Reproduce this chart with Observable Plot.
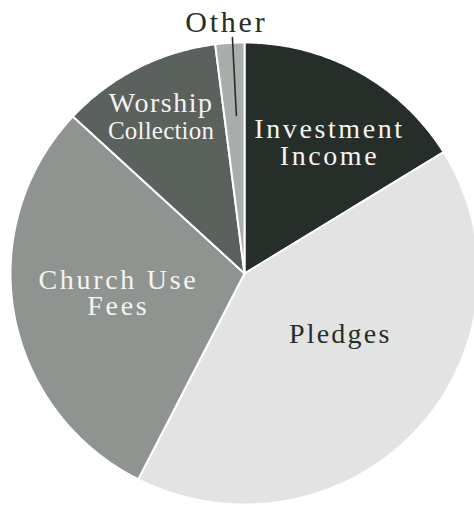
<!DOCTYPE html>
<html>
<head>
<meta charset="utf-8">
<script src="https://cdn.jsdelivr.net/npm/d3@7"></script>
<script src="https://cdn.jsdelivr.net/npm/@observablehq/plot@0.6"></script>
<style>
  html, body { margin: 0; padding: 0; background: #ffffff; }
  #chart svg { display: block; }
</style>
</head>
<body>
<div id="chart"></div>
<script>
// ---- data ----
const categories = ["Investment Income", "Pledges", "Church Use Fees", "Worship Collection", "Other"];
const shares = [16.2, 41.3, 29.4, 11.1, 2.0];
const labelTexts = ["Investment\nIncome", "Pledges", "Church Use\nFees", "Worship\nCollection", "Other"];

// ---- style / layout ----
const colors = ["#252e29", "#e3e3e3", "#8f9490", "#5b615c", "#a9aeab"];
const textColors = ["#f4f4f2", "#252e29", "#f4f4f2", "#f4f4f2", "#252e29"];
const labelRadius = [0.673, 0.486, 0.546, 0.765, 1.085];
const labelAngleOffset = [3.5, -10, 0.8, -0.6, -0.5]; // degrees from slice middle
const labelSize = [28, 28, 28, 28, 30];
const labelLineHeight = [27.5, 27, 25.5, 27, 27]; // px
const labelSpacing = [2.6, 2.2, 2.7, 1.5, 2.8];   // letter-spacing px
const W = 474, H = 505, RX = 234, RY = 231, CX = 244, CY = 273;

const pie = d3.pie().sort(null).value(d => d)(shares);

// wedge polygons (unit circle coordinates)
const wedgePts = [];
pie.forEach((p, i) => {
  const n = Math.max(4, Math.ceil((p.endAngle - p.startAngle) / 0.01));
  wedgePts.push({cat: categories[i], x: 0, y: 0});
  for (let k = 0; k <= n; k++) {
    const a = p.startAngle + (p.endAngle - p.startAngle) * k / n;
    wedgePts.push({cat: categories[i], x: Math.sin(a), y: Math.cos(a)});
  }
  wedgePts.push({cat: categories[i], x: 0, y: 0});
});

// label anchors
const labels = pie.map((p, i) => {
  const a = (p.startAngle + p.endAngle) / 2 + labelAngleOffset[i] * Math.PI / 180;
  const r = labelRadius[i];
  return {text: labelTexts[i], i, x: Math.sin(a) * r, y: Math.cos(a) * r};
});

// leader line for "Other"
const op = pie[4];
const la = (op.startAngle + op.endAngle) / 2 + 0.7 * Math.PI / 180;
const leader = [0.685, 1.023].map(r => ({x: Math.sin(la) * r, y: Math.cos(la) * r}));

const textMarks = labels.map(d => Plot.text([d], {
  x: "x", y: "y", text: "text",
  fill: textColors[d.i], fontSize: labelSize[d.i],
  lineHeight: labelLineHeight[d.i] / labelSize[d.i],
  fontFamily: "Liberation Serif",
  textAnchor: "middle", lineAnchor: "middle"
}));

const chart = Plot.plot({
  width: W, height: H, margin: 0,
  x: {domain: [-CX / RX, (W - CX) / RX], axis: null},
  y: {domain: [-(H - CY) / RY, CY / RY], axis: null},
  color: {domain: categories, range: colors},
  marks: [
    Plot.line(wedgePts, {x: "x", y: "y", z: "cat", fill: "cat", stroke: "#ffffff", strokeWidth: 2, strokeLinejoin: "round", curve: "linear"}),
    Plot.line(leader, {x: "x", y: "y", stroke: "#252e29", strokeWidth: 1.6}),
    ...textMarks
  ]
});

// typographic touches: wide serif setting, smaller condensed "Collection"
d3.select(chart).selectAll("text").each(function() {
  const full = this.textContent;
  const idx = labelTexts.findIndex(t => t.replace("\n", "") === full);
  this.style.fontFamily = '"Liberation Serif", "Times New Roman", serif';
  if (idx >= 0) this.style.letterSpacing = labelSpacing[idx] + "px";
  d3.select(this).selectAll("tspan").each(function() {
    if (this.textContent === "Collection") {
      this.style.fontSize = "25px";
      this.style.letterSpacing = "0.2px";
      this.setAttribute("dy", String(labelLineHeight[3]));
    }
  });
});

document.getElementById("chart").appendChild(chart);
</script>
</body>
</html>
